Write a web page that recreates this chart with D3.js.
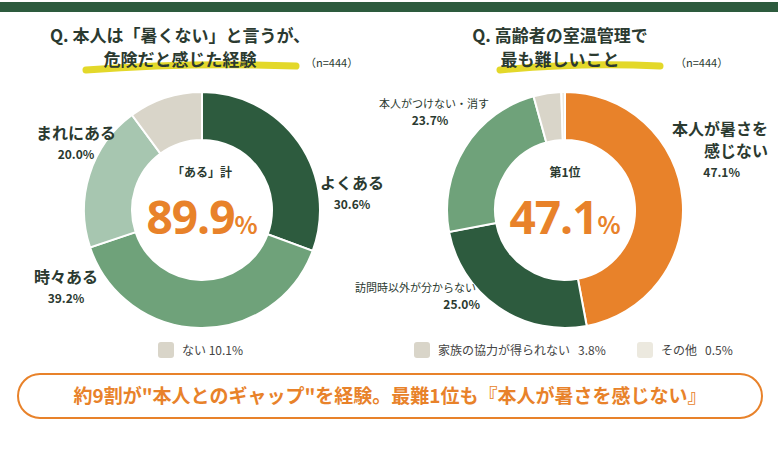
<!DOCTYPE html>
<html><head><meta charset="utf-8">
<script src="https://cdn.jsdelivr.net/npm/d3@7"></script>
<style>body{margin:0;background:#fff;font-family:"Noto Sans CJK JP",sans-serif;}</style>
</head><body><svg id="c" width="778" height="449"></svg>
<script>
// data
const leftCats = ["よくある", "時々ある", "まれにある", "ない"];
const leftVals = [30.6, 39.2, 20.0, 10.1];
const leftTotal = 89.9; // 「ある」計 as printed
const rightCats = ["本人が暑さを感じない", "訪問時以外が分からない", "本人がつけない・消す", "家族の協力が得られない", "その他"];
const rightVals = [47.1, 25.0, 23.7, 3.8, 0.5];

const leftColors = ["#2d5b3e", "#6fa27a", "#a7c6b0", "#d9d5c9"];
const rightColors = ["#e8822a", "#2d5b3e", "#6fa27a", "#d9d5c9", "#ece9df"];
const dark = "#2b3a30";

const svg = d3.select("#c");
svg.append("rect").attr("x", 0).attr("y", 2).attr("width", 778).attr("height", 10).attr("fill", "#2d5b3e");

function title(x, l1, l2, hlx, hlw) {
  svg.append("path")
    .attr("d", `M${hlx},${70} q${hlw/2},-8 ${hlw},-4`)
    .attr("stroke", "#e3d82a").attr("stroke-width", 7).attr("fill", "none").attr("stroke-linecap", "round");
  svg.append("text").attr("x", x).attr("y", 42).attr("text-anchor", "middle")
    .attr("font-size", 17).attr("font-weight", 700).attr("fill", dark).text(l1);
  svg.append("text").attr("x", x).attr("y", 66).attr("text-anchor", "middle")
    .attr("font-size", 17).attr("font-weight", 700).attr("fill", dark).text(l2);
}
title(180, "Q. 本人は「暑くない」と言うが、", "危険だと感じた経験", 86, 210);
title(560, "Q. 高齢者の室温管理で", "最も難しいこと", 500, 160);
svg.append("text").attr("x", 305).attr("y", 67).attr("font-size", 11).attr("fill", dark).text("（n=444）");
svg.append("text").attr("x", 675).attr("y", 67).attr("font-size", 11).attr("fill", dark).text("（n=444）");

function donut(cx, cy, vals, colors) {
  const pie = d3.pie().sort(null).value(d => d)(vals);
  const arc = d3.arc().innerRadius(70).outerRadius(118);
  const g = svg.append("g").attr("transform", `translate(${cx},${cy})`);
  g.selectAll("path").data(pie).join("path").attr("d", arc)
    .attr("fill", (d, i) => colors[i]).attr("stroke", "#fff").attr("stroke-width", 2);
  return g;
}
const gl = donut(202, 210, leftVals, leftColors);
const gr = donut(565, 210, rightVals, rightColors);

function center(g, head, v) {
  g.append("text").attr("y", -33).attr("text-anchor", "middle").attr("font-size", 12).attr("font-weight", 700).attr("fill", dark).text(head);
  g.append("text").attr("y", 24).attr("text-anchor", "middle").attr("fill", "#e8822a").attr("font-weight", 700)
    .call(t => { t.append("tspan").attr("font-size", 46).attr("font-family", "Open Sans").attr("letter-spacing", -1).text(v.toFixed(1)); t.append("tspan").attr("font-size", 24).text("%"); });
}
center(gl, "「ある」計", leftTotal);
center(gr, "第1位", rightVals[0]);

function label(x, y, lines, val, anchor, size, vx) {
  const t = svg.append("text").attr("text-anchor", anchor).attr("fill", dark).attr("font-weight", 700);
  lines.forEach((l, i) => t.append("tspan").attr("x", x).attr("y", y + i * (size + 6)).attr("font-size", size).text(l));
  svg.append("text").attr("x", vx === undefined ? x : vx).attr("y", y + (lines.length - 1) * (size + 6) + 20)
    .attr("text-anchor", anchor).attr("font-size", 12).attr("font-weight", 700).attr("fill", dark).text(val.toFixed(1) + "%");
}
label(352, 189, [leftCats[0]], leftVals[0], "middle", 16);
label(76, 139, [leftCats[2]], leftVals[2], "middle", 16);
label(66, 283, [leftCats[1]], leftVals[1], "middle", 16);
label(768, 135, ["本人が暑さを", "感じない"], rightVals[0], "end", 16, 740);
svg.append("text").attr("x", 434).attr("y", 108).attr("text-anchor", "middle").attr("font-size", 11).attr("fill", dark).text(rightCats[2]);
svg.append("text").attr("x", 430).attr("y", 125).attr("text-anchor", "middle").attr("font-size", 12).attr("font-weight", 700).attr("fill", dark).text(rightVals[2].toFixed(1) + "%");
svg.append("text").attr("x", 476).attr("y", 292).attr("text-anchor", "end").attr("font-size", 11).attr("fill", dark).text(rightCats[1]);
svg.append("text").attr("x", 480).attr("y", 309).attr("text-anchor", "end").attr("font-size", 12).attr("font-weight", 700).attr("fill", dark).text(rightVals[1].toFixed(1) + "%");

function legend(x, color, text) {
  svg.append("rect").attr("x", x).attr("y", 342).attr("width", 16).attr("height", 16).attr("rx", 3).attr("fill", color);
  svg.append("text").attr("x", x + 24).attr("y", 355).attr("font-size", 12).attr("fill", "#444").attr("xml:space", "preserve").text(text);
}
legend(158, leftColors[3], leftCats[3] + " " + leftVals[3].toFixed(1) + "%");
legend(414, rightColors[3], rightCats[3] + "   " + rightVals[3].toFixed(1) + "%");
legend(637, rightColors[4], rightCats[4] + "   " + rightVals[4].toFixed(1) + "%");

svg.append("rect").attr("x", 18).attr("y", 374).attr("width", 744).attr("height", 44).attr("rx", 22)
  .attr("fill", "#fff").attr("stroke", "#e8822a").attr("stroke-width", 2);
svg.append("text").attr("x", 390).attr("y", 403).attr("text-anchor", "middle").attr("font-size", 19).attr("font-weight", 700)
  .attr("fill", "#e8822a").text("約9割が\"本人とのギャップ\"を経験。最難1位も『本人が暑さを感じない』");
</script></body></html>
